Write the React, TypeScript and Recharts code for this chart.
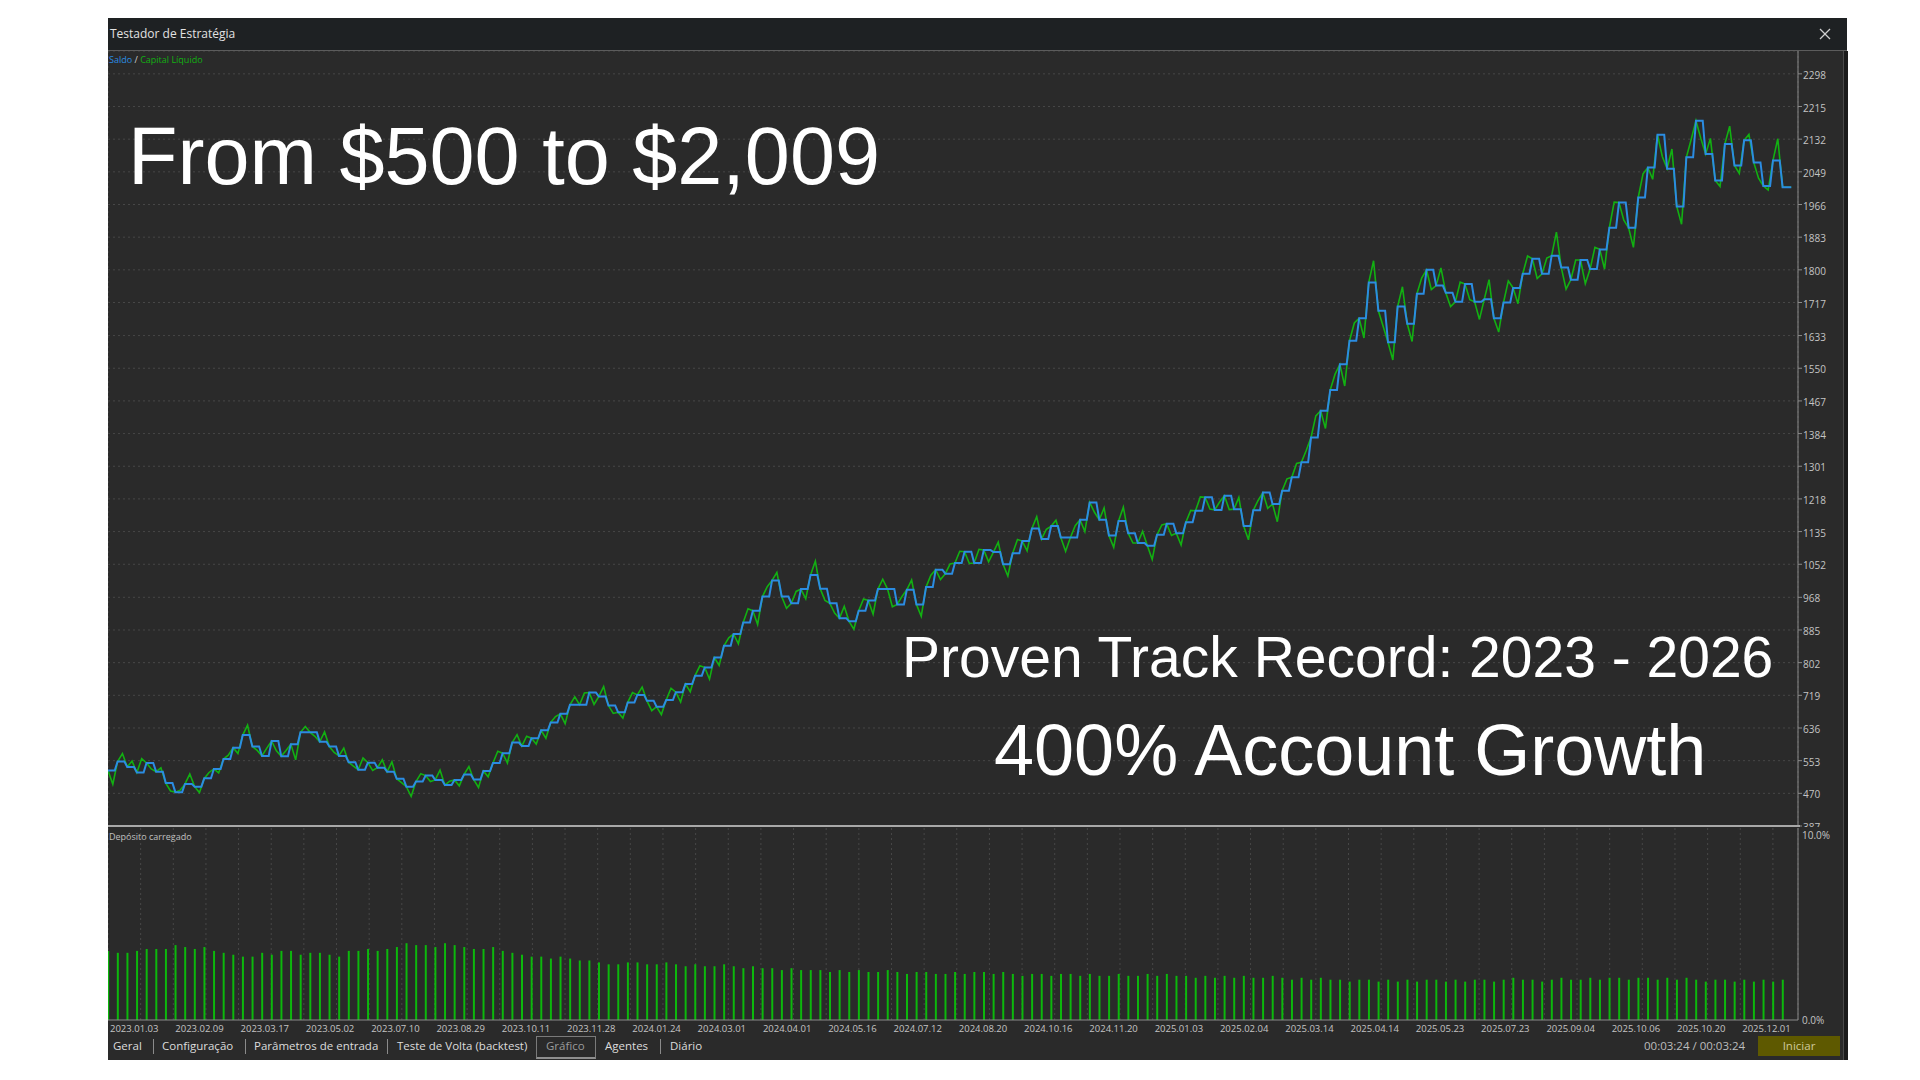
import React from 'react';
import { ComposedChart, Line, Bar, XAxis, YAxis, CartesianGrid } from 'recharts';

// balance after each closed trade
const balance = [
  528, 551, 537, 523, 547, 525, 496, 473, 494, 487,
  508, 532, 557, 586, 618, 589, 565, 603, 564, 595,
  625, 625, 601, 589, 565, 549, 530, 548, 535, 525,
  507, 487, 500, 515, 504, 491, 504, 518, 505, 527,
  547, 572, 599, 590, 610, 630, 650, 672, 695, 695,
  726, 716, 693, 676, 701, 720, 705, 690, 707, 727,
  748, 769, 790, 815, 845, 875, 904, 934, 970, 1011,
  970, 953, 989, 1025, 990, 953, 915, 907, 934, 960,
  989, 989, 950, 987, 950, 994, 1038, 1028, 1055, 1084,
  1055, 1088, 1083, 1052, 1080, 1111, 1143, 1116, 1149, 1120,
  1120, 1165, 1209, 1165, 1125, 1162, 1131, 1106, 1099, 1127,
  1155, 1131, 1159, 1188, 1222, 1190, 1226, 1192, 1149, 1189,
  1234, 1205, 1239, 1273, 1311, 1374, 1442, 1495, 1560, 1620,
  1677, 1768, 1696, 1616, 1707, 1663, 1739, 1800, 1760, 1742,
  1719, 1764, 1719, 1725, 1677, 1717, 1754, 1790, 1828, 1790,
  1836, 1806, 1775, 1825, 1802, 1852, 1907, 1971, 1907, 1984,
  2060, 2143, 2057, 1961, 2086, 2179, 2094, 2027, 2120, 2065,
  2129, 2073, 2013, 2078, 2010,
];

// how far equity swings away from the balance while each trade is open
const equitySwing = [
  -35, 20, 15, 35, -15, 10, -20, 5, 25, -15,
  15, -10, 10, -15, 25, -10, 20, -25, 15, -40,
  15, -10, 25, -15, 20, -10, 30, -20, 20, 25,
  -10, -25, 20, -15, 25, 10, -15, 20, -20, -15,
  30, -25, 20, 25, -15, -20, 15, -25, 20, 30,
  -30, 25, -20, -15, 25, 20, -25, -20, 30, -25,
  -20, 25, -30, -20, 20, -25, 35, -35, 25, 20,
  -30, 30, -25, 35, -30, -25, 30, -20, 30, -35,
  25, -45, 20, 25, -30, 30, -25, 25, 30, -30,
  35, -30, 25, -30, 35, -25, 30, 25, 15, -35,
  30, -30, -25, 30, -30, 35, -25, 30, -35, 25,
  -30, -30, 30, 35, -30, 20, -35, 30, -35, 25,
  -40, -45, 30, 35, 30, 55, -45, 40, -55, 45,
  -50, 55, -40, -45, 50, -45, 40, -50, 45, -35,
  50, -40, -45, 50, -35, 55, -40, 45, -50, 40,
  60, -55, 50, -60, 55, -50, 65, -45, -50, 60,
  -30, -55, 50, -45, 45, -45, 40, -15, 45, -20,
  15, -40, -10, 55, 0,
];

// deposit load (%) per trade
const depositLoad = [
  3.6, 3.5, 3.5, 3.6, 3.7, 3.7, 3.7, 3.9, 3.8, 3.7, 3.8, 3.6, 3.5, 3.4, 3.3, 3.3, 3.5, 3.4, 3.6, 3.6,
  3.4, 3.5, 3.5, 3.4, 3.3, 3.6, 3.6, 3.7, 3.6, 3.7, 3.8, 4.0, 3.9, 3.9, 3.8, 4.0, 3.9, 3.8, 3.7, 3.7,
  3.8, 3.6, 3.5, 3.4, 3.3, 3.3, 3.2, 3.3, 3.2, 3.1, 3.1, 3.0, 2.9, 2.9, 3.0, 3.0, 2.9, 2.9, 3.0, 2.9,
  2.8, 2.9, 2.8, 2.8, 2.9, 2.8, 2.7, 2.8, 2.7, 2.7, 2.6, 2.7, 2.6, 2.6, 2.6, 2.5, 2.6, 2.5, 2.6, 2.5,
  2.5, 2.6, 2.5, 2.4, 2.5, 2.5, 2.4, 2.4, 2.5, 2.4, 2.5, 2.5, 2.4, 2.5, 2.4, 2.3, 2.4, 2.4, 2.3, 2.4,
  2.4, 2.3, 2.4, 2.3, 2.3, 2.4, 2.3, 2.3, 2.4, 2.3, 2.4, 2.3, 2.3, 2.2, 2.3, 2.2, 2.3, 2.2, 2.3, 2.2,
  2.2, 2.3, 2.2, 2.1, 2.2, 2.1, 2.2, 2.1, 2.1, 2.0, 2.1, 2.1, 2.0, 2.1, 2.0, 2.1, 2.0, 2.1, 2.1, 2.0,
  2.1, 2.0, 2.1, 2.1, 2.0, 2.1, 2.2, 2.1, 2.1, 2.0, 2.1, 2.2, 2.1, 2.1, 2.2, 2.1, 2.2, 2.2, 2.1, 2.2,
  2.2, 2.1, 2.2, 2.1, 2.2, 2.1, 2.0, 2.1, 2.1, 2.0, 2.1, 2.0, 2.1, 2.0, 2.1,
];

const balanceTicks = [
  387, 470, 553, 636, 719, 802, 885, 968, 1052, 1135, 1218, 1301,
  1384, 1467, 1550, 1633, 1717, 1800, 1883, 1966, 2049, 2132, 2215, 2298,
];

const dateLabels = [
  '2023.01.03', '2023.02.09', '2023.03.17', '2023.05.02', '2023.07.10', '2023.08.29',
  '2023.10.11', '2023.11.28', '2024.01.24', '2024.03.01', '2024.04.01', '2024.05.16',
  '2024.07.12', '2024.08.20', '2024.10.16', '2024.11.20', '2025.01.03', '2025.02.04',
  '2025.03.14', '2025.04.14', '2025.05.23', '2025.07.23', '2025.09.04', '2025.10.06',
  '2025.10.20', '2025.12.01',
];

const tabs = [
  { name: 'Geral', left: 113 },
  { name: 'Configuração', left: 162 },
  { name: 'Parâmetros de entrada', left: 254 },
  { name: 'Teste de Volta (backtest)', left: 397 },
  { name: 'Gráfico', left: 546 },
  { name: 'Agentes', left: 605 },
  { name: 'Diário', left: 670 },
];
const tabSeparators = [153, 245, 387, 660];

// axis layout
const X_MAX = 175.6;
const GRID_STEP = 3.392;
const gridTicks = Array.from({ length: 52 }, (_, j) => j * GRID_STEP);

// balance stays flat most of the step, equity wanders off mid-step
const curveData: any[] = [];
balance.forEach((b, i) => {
  curveData.push({ t: i, balance: b, equity: b });
  curveData.push({ t: i + 0.5, balance: b, equity: b + equitySwing[i] });
  curveData.push({ t: i + 0.7, balance: b });
});
const last = balance[balance.length - 1];
curveData.push({ t: balance.length - 0.1, balance: last, equity: last });

const loadData = depositLoad.map((v, i) => ({ t: i, load: v }));

const UI_FONT = '"Open Sans", "Noto Sans", sans-serif';
const BG = '#2a2a2a';

const DateTick = (props: any) => {
  const { x, y, index } = props;
  if (index % 2 !== 0) return <g />;
  return (
    <text x={x + 2} y={y + 8} fill="#c4c4c4" fontSize={9.5} fontFamily={UI_FONT} textAnchor="start" dominantBaseline="central">
      {dateLabels[index / 2]}
    </text>
  );
};

const LoadTick = (props: any) => {
  const { x, y, payload } = props;
  return (
    <text x={x + 4} y={payload.value === 10 ? y + 7 : y} fill="#c4c4c4" fontSize={10} fontFamily={UI_FONT} textAnchor="start" dominantBaseline="central">
      {payload.value.toFixed(1)}%
    </text>
  );
};

export default function App() {
  return (
    <div style={{ position: 'absolute', left: 0, top: 0, width: 1920, height: 1080, background: '#fff', overflow: 'hidden', fontFamily: UI_FONT }}>
      {/* window */}
      <div style={{ position: 'absolute', left: 108, top: 18, width: 1739, height: 1042, background: BG }} />
      <div style={{ position: 'absolute', left: 108, top: 18, width: 1739, height: 32, background: '#1e2123', borderBottom: '1px solid #5c5c5c' }}>
        <div style={{ position: 'absolute', left: 2, top: 7, color: '#e2e2e2', fontSize: 12 }}>Testador de Estratégia</div>
        <svg style={{ position: 'absolute', left: 1711, top: 10 }} width={12} height={12}>
          <line x1={1} y1={1} x2={11} y2={11} stroke="#cfcfcf" strokeWidth={1.2} />
          <line x1={11} y1={1} x2={1} y2={11} stroke="#cfcfcf" strokeWidth={1.2} />
        </svg>
      </div>
      <div style={{ position: 'absolute', left: 1843, top: 51, width: 4, height: 1009, background: '#1b1b1b', borderLeft: '1px solid #4a4a4a' }} />

      {/* balance / equity */}
      <div style={{ position: 'absolute', left: 108, top: 51 }}>
        <ComposedChart width={1735} height={776} data={curveData} margin={{ top: 0, right: 0, bottom: 0, left: 0 }}>
          <CartesianGrid stroke="#474747" strokeDasharray="2 3" />
          <XAxis dataKey="t" type="number" domain={[0, X_MAX]} ticks={gridTicks} interval={0} height={1} tick={false} axisLine={false} tickLine={false} allowDataOverflow />
          <YAxis
            orientation="right"
            width={45}
            domain={[387, 2356]}
            ticks={balanceTicks}
            interval={0}
            allowDataOverflow
            tick={{ fill: '#c4c4c4', fontSize: 10, fontFamily: UI_FONT, dy: 1.5 }}
            tickSize={4}
            tickMargin={1}
            tickLine={{ stroke: '#8a8a8a' }}
            axisLine={{ stroke: '#8a8a8a' }}
          />
          <Line dataKey="equity" type="linear" stroke="#12b012" strokeWidth={1.6} dot={false} connectNulls isAnimationActive={false} />
          <Line dataKey="balance" type="linear" stroke="#2b8ce2" strokeWidth={2} dot={false} connectNulls isAnimationActive={false} />
        </ComposedChart>
      </div>
      <div style={{ position: 'absolute', left: 109, top: 53, fontSize: 9, whiteSpace: 'nowrap' }}>
        <span style={{ color: '#2b8ce2' }}>Saldo</span>
        <span style={{ color: '#d0d0d0' }}> / </span>
        <span style={{ color: '#12b012' }}>Capital Líquido</span>
      </div>

      {/* deposit load */}
      <div style={{ position: 'absolute', left: 108, top: 828, background: BG }}>
        <ComposedChart width={1735} height={210} data={loadData} margin={{ top: 0, right: 0, bottom: 0, left: 0 }}>
          <CartesianGrid horizontal={false} stroke="#474747" strokeDasharray="2 3" />
          <XAxis dataKey="t" type="number" domain={[0, X_MAX]} ticks={gridTicks} interval={0} height={18} tick={<DateTick />} tickSize={0} tickMargin={0} tickLine={false} axisLine={{ stroke: '#8a8a8a' }} allowDataOverflow />
          <YAxis orientation="right" width={45} domain={[0, 10]} ticks={[0, 10]} interval={0} tick={<LoadTick />} tickSize={0} tickMargin={0} tickLine={false} axisLine={{ stroke: '#8a8a8a' }} allowDataOverflow />
          <Bar dataKey="load" fill="#0cb80c" barSize={2} isAnimationActive={false} />
        </ComposedChart>
      </div>
      <div style={{ position: 'absolute', left: 109, top: 830, fontSize: 9, color: '#c0c0c0', whiteSpace: 'nowrap' }}>Depósito carregado</div>
      <div style={{ position: 'absolute', left: 108, top: 825, width: 1692, height: 2, background: '#a8a8a8' }} />

      {/* tabs */}
      {tabSeparators.map((x) => (
        <div key={x} style={{ position: 'absolute', left: x, top: 1039, width: 1, height: 15, background: '#8a8a8a' }} />
      ))}
      <div style={{ position: 'absolute', left: 536, top: 1036, width: 58, height: 20, border: '1px solid #7a7a7a', borderBottom: '2px solid #8e8e8e' }} />
      {tabs.map((t) => (
        <div key={t.name} style={{ position: 'absolute', left: t.left, top: 1038, fontSize: 11.5, color: t.name === 'Gráfico' ? '#9a9a9a' : '#dcdcdc', whiteSpace: 'nowrap' }}>
          {t.name}
        </div>
      ))}
      <div style={{ position: 'absolute', left: 1644, top: 1038, fontSize: 11.5, color: '#bdbdbd', whiteSpace: 'nowrap' }}>00:03:24 / 00:03:24</div>
      <div style={{ position: 'absolute', left: 1758, top: 1036, width: 82, height: 20, background: '#5e5900', color: '#cfc99a', fontSize: 11.5, textAlign: 'center', lineHeight: '20px' }}>Iniciar</div>

      {/* headline overlays */}
      <svg style={{ position: 'absolute', left: 0, top: 0, pointerEvents: 'none' }} width={1920} height={1080}>
        <g fill="#ffffff" fontFamily='"Liberation Sans", Arial, sans-serif'>
          <text x={128} y={184} fontSize={81}>From $500 to $2,009</text>
          <text x={902} y={677} fontSize={57}>Proven Track Record: 2023 - 2026</text>
          <text x={994} y={775} fontSize={72}>400% Account Growth</text>
        </g>
      </svg>
    </div>
  );
}
